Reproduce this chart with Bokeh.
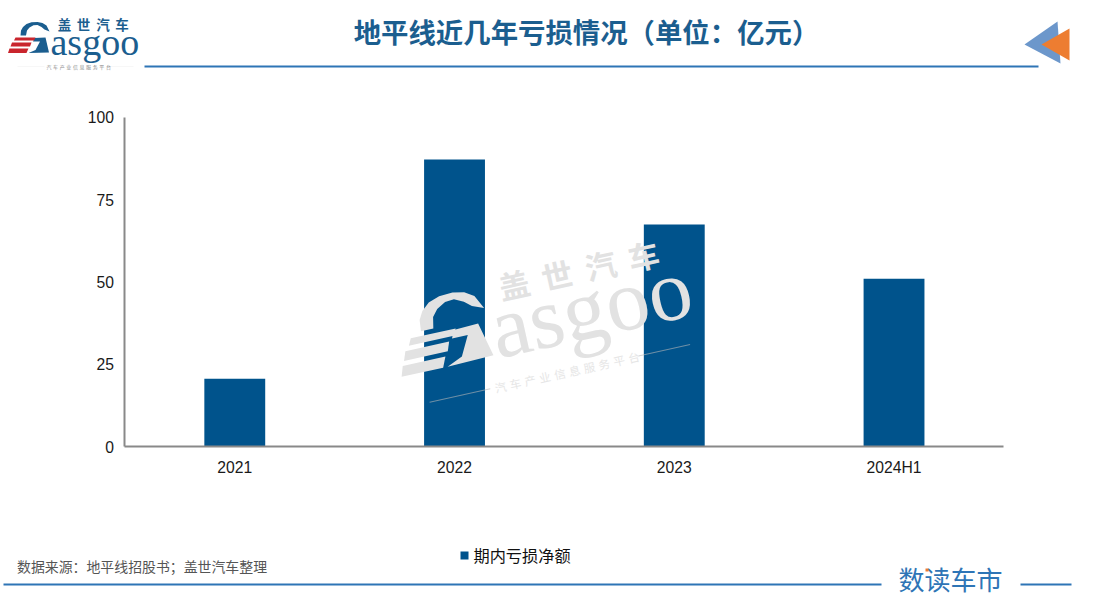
import math
from bokeh.plotting import figure
from bokeh.models import Label, PolyAnnotation, Legend, LegendItem, ColumnDataSource, LinearAxis, Range1d, FixedTicker
from bokeh.embed import file_html
from bokeh.resources import INLINE

categories = ["2021", "2022", "2023", "2024H1"]
net_loss = [20.6, 87.2, 67.4, 51.0]
y_ticks = [0, 25, 50, 75, 100]
series_name = "期内亏损净额"
title_text = "地平线近几年亏损情况（单位：亿元）"
source_text = "数据来源：地平线招股书；盖世汽车整理"
brand_text = "数读车市"
logo_cn = "盖世汽车"
logo_en = "asgoo"
logo_sub = "汽车产业信息服务平台"

BAR = "#00538C"
BLUE = "#2E75B6"
AXIS = "#898989"
CJK = "Noto Sans CJK SC"

W, H = 1093, 602
# plot area inside the page, in pixels
LEFT, RIGHT, TOP, BOTTOM = 124.4, 1003.4, 116.7, 446.2
PX_X = (RIGHT - LEFT) / len(categories)
PX_Y = (BOTTOM - TOP) / 100
positions = list(range(len(categories)))

p = figure(width=W, height=H,
           x_range=Range1d(-0.5 - LEFT / PX_X, -0.5 + (W - LEFT) / PX_X),
           y_range=Range1d(-(H - BOTTOM) / PX_Y, BOTTOM / PX_Y),
           x_axis_location=None, y_axis_location=None,
           output_backend="svg", toolbar_location=None,
           min_border=0)
p.outline_line_color = None
p.grid.visible = False
p.background_fill_color = "white"

src = ColumnDataSource(dict(x=positions, val=net_loss))
bars = p.vbar(x="x", top="val", width=0.277, source=src, color=BAR, line_color=None)

xax = LinearAxis(fixed_location=0, bounds=(-0.5, 3.5), ticker=FixedTicker(ticks=positions),
                 major_label_overrides=dict(zip(positions, categories)),
                 major_label_standoff=6)
yax = LinearAxis(fixed_location=-0.5, bounds=(0, 100), ticker=FixedTicker(ticks=y_ticks),
                 major_label_standoff=5)
for ax, place in ((xax, "below"), (yax, "left")):
    ax.axis_line_color = AXIS
    ax.axis_line_width = 2
    ax.major_tick_line_color = None
    ax.minor_tick_line_color = None
    ax.major_label_text_font = "Liberation Sans"
    ax.major_label_text_font_size = "15.7px"
    ax.major_label_text_color = "#1a1a1a"
    p.add_layout(ax, place)

legend = Legend(items=[LegendItem(label=series_name, renderers=[bars])],
                location=(458.5, H - 567), orientation="horizontal",
                background_fill_alpha=0, border_line_color=None,
                padding=0, margin=0, glyph_width=10, glyph_height=10, label_standoff=5,
                label_text_font=CJK, label_text_font_size="16.2px", label_text_color="#111111",
                label_height=14)
p.add_layout(legend, "center")


def poly(pts, color, alpha=1.0):
    p.add_layout(PolyAnnotation(
        xs=[a for a, _ in pts], ys=[b for _, b in pts],
        xs_units="canvas", ys_units="canvas",
        fill_color=color, fill_alpha=alpha,
        line_color=None))


def text(s, x, y, size, color, font=CJK, style="normal", align="center", base="middle", angle=0.0):
    p.add_layout(Label(text=s, x=x, y=y, x_units="canvas", y_units="canvas",
                       text_font=font, text_font_size=f"{size}px", text_font_style=style,
                       text_color=color, text_align=align, text_baseline=base, angle=angle))


def rule(x0, x1, y, color=BLUE, h=2):
    poly([(x0, y), (x1, y), (x1, y + h), (x0, y + h)], color)


ARC = [(20, 35), (20.5, 30), (22.5, 26.5), (26, 23.5), (31, 21.8), (37, 21.5), (42, 22.5), (46, 25), (49, 31),
       (44, 29), (41, 26.5), (37, 24.5), (33, 24.8), (29, 27), (26.5, 30), (25.5, 35)]
BLOCK = [(34, 37.5), (45, 37), (48.5, 52), (28, 52.5), (35, 49.5), (39.5, 41), (32.5, 41)]
STRIPES = [[(15, 37), (35, 37), (33.5, 40), (13.5, 40)],
           [(11.5, 42), (31, 42), (29.5, 46), (10, 46)],
           [(9, 48), (28, 48), (26, 52.5), (7.5, 52.5)]]
SUB_LINES = [(17, 44), (110, 133)]


def logo(ox, oy, s, deg, main, stripe, sub, line, line_alpha=1.0):
    a = math.radians(deg)
    ca, sa = math.cos(a), math.sin(a)

    def T(x, y):
        dx, dy = (x - 8) * s, (y - 52) * s
        return ox + dx * ca + dy * sa, oy - dx * sa + dy * ca

    poly([T(*q) for q in ARC], main)
    poly([T(*q) for q in BLOCK], main)
    for st in STRIPES:
        poly([T(*q) for q in st], stripe)
    x, y = T(50, 41)
    text(logo_en, x, y, 38 * s, main, font="Liberation Serif", align="left", base="alphabetic", angle=a)
    for ch, cx in zip(logo_cn, (64, 83, 102.5, 121.5)):
        x, y = T(cx, 23.5)
        text(ch, x, y, 13.5 * s, main, style="bold", angle=a)
    for i, ch in enumerate(logo_sub):
        x, y = T(48.5 + i * 6.6, 66)
        text(ch, x, y, 5 * s, sub, angle=a)
    for x0, x1 in SUB_LINES:
        poly([T(x0, 65.7), T(x1, 65.7), T(x1, 66.1), T(x0, 66.1)], line, alpha=line_alpha)


# header
logo(8, 52, 1.0, 0, "#1B5E8F", "#C9252D", "#8A8A8A", "#DDDDDD")
text(title_text, 586, 30.5, 27.4, "#1B5E8F", style="bold")
rule(144, 1038, 65)
poly([(1024, 44), (1057, 21), (1060, 63)], "#6C97CB")
poly([(1041, 44), (1069, 28), (1069, 60)], "#ED7D31")

# footer
text(source_text, 16.5, 565, 13.9, "#555555", align="left")
rule(3, 881, 583)
rule(1020, 1071, 583)
text(brand_text, 950, 578, 26, BLUE)
poly([(925, 568), (928, 568), (928, 571), (925, 571)], "#ED7D31")

# watermark above the bars
logo(402, 375, 2.3, 12.5, "#E2E2E2", "#E2E2E2", "#E6E6E6", "#B8B8B8", line_alpha=0.6)

open("out.html", "w").write(file_html(p, INLINE))
